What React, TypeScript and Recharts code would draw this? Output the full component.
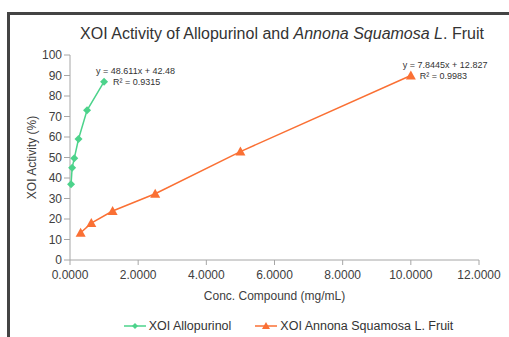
import React from "react"
import {
  ScatterChart,
  Scatter,
  XAxis,
  YAxis,
  Legend,
  LabelList,
} from "recharts"

const allopurinolConc = [0.03125, 0.0625, 0.125, 0.25, 0.5, 1]
const allopurinolActivity = [37, 45, 49.6, 59, 73, 87]
const annonaConc = [0.3125, 0.625, 1.25, 2.5, 5, 10]
const annonaActivity = [13.3, 18, 23.9, 32.3, 52.9, 90]
const xTicks = [0, 2, 4, 6, 8, 10, 12]
const yTicks = [0, 10, 20, 30, 40, 50, 60, 70, 80, 90, 100]
const allopurinolFit = ["y = 48.611x + 42.48", "R² = 0.9315"]
const annonaFit = ["y = 7.8445x + 12.827", "R² = 0.9983"]

const GREEN = "#4CD38B"
const ORANGE = "#FA7034"
const FONT = "'Liberation Sans', Arial, sans-serif"

const allopurinolData = allopurinolConc.map((x, i) => ({ x, y: allopurinolActivity[i] }))
const annonaData = annonaConc.map((x, i) => ({ x, y: annonaActivity[i] }))

function Diamond(props: any) {
  const { cx, cy } = props
  const r = 4
  return (
    <path
      d={`M${cx},${cy - r} L${cx + r},${cy} L${cx},${cy + r} L${cx - r},${cy} Z`}
      fill={GREEN}
    />
  )
}

function Triangle(props: any) {
  const { cx, cy } = props
  return (
    <path d={`M${cx},${cy - 5} L${cx + 5},${cy + 4} L${cx - 5},${cy + 4} Z`} fill={ORANGE} />
  )
}

// trendline equation box next to the last point of a series
function fitLabel(lines: string[], count: number) {
  return (props: any) => {
    const { x, y, width, height, index } = props
    if (index !== count - 1) return null
    const cx = x + (width || 0) / 2
    const cy = y + (height || 0) / 2
    return (
      <g>
        <text x={cx - 8} y={cy - 8} fontSize={9} fill="#333" fontFamily={FONT}>
          {lines[0]}
        </text>
        <text x={cx + 9} y={cy + 3} fontSize={9} fill="#333" fontFamily={FONT}>
          {lines[1]}
        </text>
      </g>
    )
  }
}

function LegendContent() {
  const item = (color: string, marker: React.ReactNode, label: string) => (
    <span style={{ display: "inline-flex", alignItems: "center", marginRight: 24 }}>
      <svg width={22} height={10}>
        <line x1={0} y1={5} x2={22} y2={5} stroke={color} strokeWidth={1.5} />
        {marker}
      </svg>
      <span style={{ marginLeft: 3 }}>{label}</span>
    </span>
  )
  return (
    <div
      style={{
        textAlign: "center",
        fontFamily: FONT,
        fontSize: 12.5,
        color: "#333",
        paddingLeft: 92,
        paddingTop: 4,
      }}
    >
      {item(GREEN, <path d="M11,2 L14,5 L11,8 L8,5 Z" fill={GREEN} />, "XOI Allopurinol")}
      {item(ORANGE, <path d="M11,1 L15,8 L7,8 Z" fill={ORANGE} />, "XOI Annona Squamosa L. Fruit")}
    </div>
  )
}

export default function App() {
  return (
    <div style={{ position: "absolute", left: 0, top: 0, width: 509, height: 337, background: "#fff" }}>
      <div
        style={{
          position: "absolute",
          left: 7,
          top: 12,
          width: 510,
          height: 330,
          borderLeft: "3px solid #444",
          borderTop: "3px solid #444",
        }}
      />
      <div
        style={{
          position: "absolute",
          left: 0,
          top: 25,
          width: 564,
          textAlign: "center",
          fontFamily: FONT,
          fontSize: 16,
          color: "#333",
        }}
      >
        XOI Activity of Allopurinol and <i>Annona Squamosa L</i>. Fruit
      </div>
      <div style={{ position: "absolute", left: 0, top: 0 }}>
        <ScatterChart
          width={509}
          height={337}
          margin={{ top: 55, right: 30, left: 30, bottom: 2 }}
        >
          <XAxis
            type="number"
            dataKey="x"
            domain={[0, 12]}
            ticks={xTicks}
            tickFormatter={(v: number) => v.toFixed(4)}
            height={55}
            stroke="#A6A6A6"
            tick={{ fill: "#404040", fontSize: 12, fontFamily: FONT, dy: 3 }}
            tickSize={5}
            label={{
              value: "Conc. Compound (mg/mL)",
              position: "insideTop",
              offset: 31,
              fill: "#404040",
              fontSize: 12,
              fontFamily: FONT,
            }}
          />
          <YAxis
            type="number"
            dataKey="y"
            domain={[0, 100]}
            ticks={yTicks}
            width={40}
            stroke="#A6A6A6"
            tick={{ fill: "#404040", fontSize: 12, fontFamily: FONT }}
            tickSize={6}
            label={{
              value: "XOI Activity (%)",
              angle: -90,
              position: "center",
              dx: -18,
              fill: "#404040",
              fontSize: 12,
              fontFamily: FONT,
            }}
          />
          <Legend verticalAlign="bottom" height={20} content={<LegendContent />} />
          <Scatter
            name="XOI Allopurinol"
            data={allopurinolData}
            line={{ stroke: GREEN, strokeWidth: 1.5 }}
            shape={<Diamond />}
            isAnimationActive={false}
          >
            <LabelList dataKey="y" content={fitLabel(allopurinolFit, allopurinolData.length)} />
          </Scatter>
          <Scatter
            name="XOI Annona Squamosa L. Fruit"
            data={annonaData}
            line={{ stroke: ORANGE, strokeWidth: 1.5 }}
            shape={<Triangle />}
            isAnimationActive={false}
          >
            <LabelList dataKey="y" content={fitLabel(annonaFit, annonaData.length)} />
          </Scatter>
        </ScatterChart>
      </div>
    </div>
  )
}
